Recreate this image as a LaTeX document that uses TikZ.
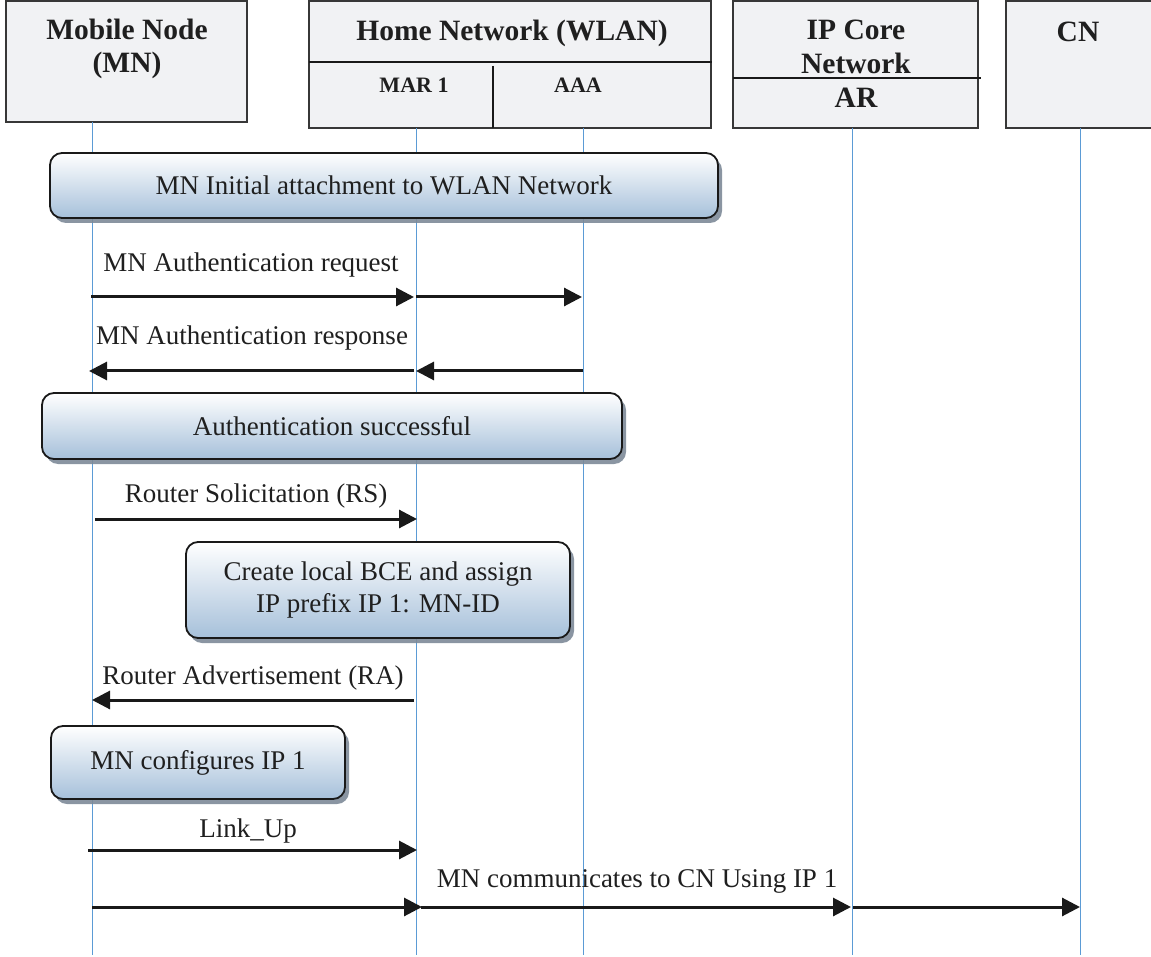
\documentclass[tikz,border=0pt]{standalone}
\usepackage{fontspec}
\setmainfont{Liberation Serif}
\usetikzlibrary{arrows.meta,shadows}
\definecolor{hdrfill}{RGB}{241,242,244}
\definecolor{hdrline}{RGB}{55,55,55}
\definecolor{life}{RGB}{91,155,213}
\definecolor{gradbot}{RGB}{166,192,218}
\definecolor{shadowc}{RGB}{125,138,152}
\begin{document}
\begin{tikzpicture}[x=1pt,y=-1pt,
  hdr/.style={draw=hdrline, line width=1.6pt, fill=hdrfill, inner sep=0pt, outer sep=0pt, anchor=north west},
  hdrtext/.style={font=\fontsize{29.5}{32}\bfseries\selectfont, text=black!88, inner sep=0pt, anchor=base},
  subtext/.style={font=\fontsize{22}{24}\bfseries\selectfont, text=black!88, inner sep=0pt, anchor=base},
  divider/.style={draw=black!90, line width=1.3pt},
  lifeline/.style={draw=life, line width=0.9pt},
  actbox/.style={draw=black!90, line width=1.8pt, rounded corners=12pt, top color=white, bottom color=gradbot,
    drop shadow={shadow xshift=4pt, shadow yshift=-5pt, fill=shadowc, opacity=0.9},
    font=\fontsize{27}{32}\selectfont, text=black!88, align=center, inner sep=0pt},
  lbl/.style={font=\fontsize{27}{32}\selectfont, text=black!88, inner sep=0pt, anchor=base},
  msg/.style={draw=black!90, line width=3pt, -{Triangle[length=18pt,width=18pt]}}]
\useasboundingbox (0,0) rectangle (1151,957);

% header boxes
\node[hdr, minimum width=241pt, minimum height=121pt] (mnbox) at (6,1) {};
\node[hdr, minimum width=402pt, minimum height=127pt] (homebox) at (309,1) {};
\node[hdr, minimum width=245pt, minimum height=127pt] (ipbox) at (733,1) {};
\node[hdr, minimum width=160pt, minimum height=127pt] (cnbox) at (1006,1) {};
\draw[divider] (309,62) -- (712,62);
\draw[divider] (493,66) -- (493,128);
\draw[divider] (733,78) -- (981,78);

\node[hdrtext] (mnt1) at (127,40) {Mobile Node};
\node[hdrtext] (mnt2) at (127,73) {(MN)};
\node[hdrtext] (homet) at (512,41) {Home Network (WLAN)};
\node[subtext] (mart) at (414,93) {MAR 1};
\node[subtext] (aaat) at (578,93) {AAA};
\node[hdrtext] (ipt1) at (856,40) {IP Core};
\node[hdrtext] (ipt2) at (856,74) {Network};
\node[hdrtext] (art) at (856,108) {AR};
\node[hdrtext] (cnt) at (1078,42) {CN};

% lifelines
\coordinate (mnT) at (92,122);  \coordinate (mnB) at (92,955);
\coordinate (marT) at (416,128); \coordinate (marB) at (416,955);
\coordinate (aaaT) at (583,128); \coordinate (aaaB) at (583,955);
\coordinate (arT) at (852,128);  \coordinate (arB) at (852,955);
\coordinate (cnT) at (1080,128); \coordinate (cnB) at (1080,955);
\draw[lifeline] (mnT) -- (mnB);
\draw[lifeline] (marT) -- (marB);
\draw[lifeline] (aaaT) -- (aaaB);
\draw[lifeline] (arT) -- (arB);
\draw[lifeline] (cnT) -- (cnB);

% activity boxes
\node[actbox, minimum width=668pt, minimum height=65pt] (b1) at (384,185.5) {MN Initial attachment to WLAN Network};
\node[actbox, minimum width=580pt, minimum height=66pt] (b2) at (332,426) {Authentication successful};
\node[actbox, minimum width=384pt, minimum height=96pt] (b3) at (378,590) {Create local BCE and assign\\IP prefix IP 1: MN-ID};
\node[actbox, minimum width=294pt, minimum height=73pt] (b4) at (198,762.5) {MN configures IP 1};

% messages
\coordinate (r1a) at (91,297);  \coordinate (r1b) at (414,297);
\coordinate (r2a) at (416,297); \coordinate (r2b) at (582,297);
\draw[msg] (r1a) -- (r1b);
\draw[msg] (r2a) -- (r2b);
\node[lbl] (lreq) at (251,272) {MN Authentication request};

\coordinate (s1a) at (583,371); \coordinate (s1b) at (416,371);
\coordinate (s2a) at (414,371); \coordinate (s2b) at (89,371);
\draw[msg] (s1a) -- (s1b);
\draw[msg] (s2a) -- (s2b);
\node[lbl] (lresp) at (252,345) {MN Authentication response};

\coordinate (rsa) at (95,519); \coordinate (rsb) at (417,519);
\draw[msg] (rsa) -- (rsb);
\node[lbl] (lrs) at (256,502) {Router Solicitation (RS)};

\coordinate (raa) at (414,700); \coordinate (rab) at (92,700);
\draw[msg] (raa) -- (rab);
\node[lbl] (lra) at (253,684) {Router Advertisement (RA)};

\coordinate (lua) at (88,850); \coordinate (lub) at (417,850);
\draw[msg] (lua) -- (lub);
\node[lbl] (llu) at (248,837) {Link\_Up};

\coordinate (c1a) at (92,907);  \coordinate (c1b) at (422,907);
\coordinate (c2a) at (421,907); \coordinate (c2b) at (851,907);
\coordinate (c3a) at (853,907); \coordinate (c3b) at (1080,907);
\draw[msg] (c1a) -- (c1b);
\draw[msg] (c2a) -- (c2b);
\draw[msg] (c3a) -- (c3b);
\node[lbl] (lcomm) at (637,887) {MN communicates to CN Using IP 1};
\end{tikzpicture}
\end{document}
